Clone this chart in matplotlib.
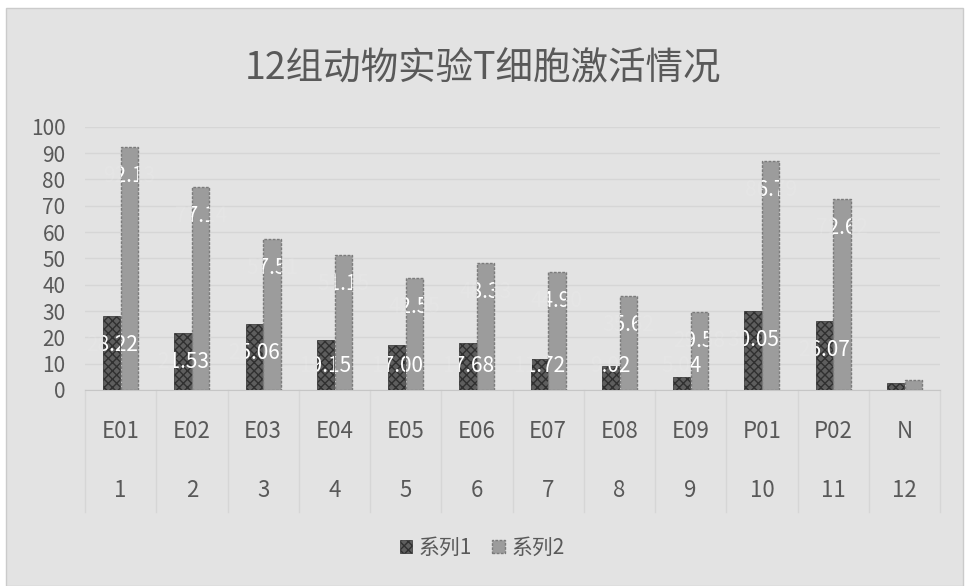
import matplotlib.pyplot as plt
from matplotlib.patches import Rectangle
from matplotlib.transforms import blended_transform_factory
import numpy as np

plt.rcParams["font.family"] = ["Noto Sans CJK SC", "DejaVu Sans"]

groups = ["E01", "E02", "E03", "E04", "E05", "E06", "E07", "E08", "E09", "P01", "P02", "N"]
numbers = ["1", "2", "3", "4", "5", "6", "7", "8", "9", "10", "11", "12"]
series1 = [28.22, 21.53, 25.06, 19.15, 17.00, 17.68, 11.72, 9.02, 5.04, 30.05, 26.07, 2.80]
series2 = [92.13, 77.14, 57.51, 51.15, 42.55, 48.33, 44.90, 35.62, 29.58, 86.79, 72.62, 3.80]
names = ["系列1", "系列2"]

BG, TXT = "#e3e3e3", "#595959"
W, H = 965, 586

fig = plt.figure(figsize=(W / 100, H / 100), dpi=100, facecolor="white")
fig.patches.append(Rectangle((6 / W, 0), 957 / W, 1 - 8 / H, transform=fig.transFigure,
                             facecolor=BG, edgecolor="#cbcbcb", lw=1, zorder=-5))
ax = fig.add_axes([85 / W, 1 - 390 / H, 855 / W, 263.3 / H])
ax.set_facecolor("none")

x = np.arange(len(groups))
w, off = 0.24, 0.125
b1 = ax.bar(x - off, series1, w, color="#5e5e5e", edgecolor="#303030", hatch="xxxx",
            lw=0.5, zorder=3)
b2 = ax.bar(x + off, series2, w, color="#9c9c9c", edgecolor="#7b7b7b",
            ls=(0, (2, 1)), lw=1, zorder=3)

# white value labels near the top of each bar: faint over the background,
# solid white wherever they cross one of the two bars of their group
for bars, vals in ((b1, series1), (b2, series2)):
    for i, (r, v) in enumerate(list(zip(bars, vals))[:-1]):
        cx = r.get_x() + r.get_width() / 2
        ty = max(v - 11, 9)
        ax.text(cx, ty, f"{v:.2f}", ha="center", va="center", fontsize=15,
                color="white", alpha=0.1, zorder=4)
        for clip in (b1[i], b2[i]):
            t = ax.text(cx, ty, f"{v:.2f}", ha="center", va="center", fontsize=15,
                        color="white", zorder=5, clip_on=True)
            t.set_clip_path(clip)

ax.set_xlim(-0.5, len(groups) - 0.5)
ax.set_ylim(0, 100)
ax.set_yticks(np.arange(0, 101, 10))
ax.tick_params(axis="y", length=0, pad=14, labelsize=15, labelcolor=TXT)
ax.set_xticks([])
ax.yaxis.grid(True, color="#d6d6d6", lw=1)
ax.set_axisbelow(True)
for s in ("top", "right", "left"):
    ax.spines[s].set_visible(False)
ax.spines["bottom"].set_color("#c6c6c6")

# two-level category axis: group code on top, running number below
trans = blended_transform_factory(ax.transData, ax.transAxes)
for i in x:
    ax.text(i, -0.1595, groups[i], transform=trans, ha="center", va="center",
            fontsize=16, color=TXT)
    ax.text(i, -0.38, numbers[i], transform=trans, ha="center", va="center",
            fontsize=16, color=TXT)
for b in np.arange(-0.5, len(groups)):
    ax.plot([b, b], [0, -0.463], transform=trans, color="#d6d6d6", lw=1, clip_on=False)

fig.text(0.5, 1 - 69 / H, "12组动物实验T细胞激活情况", ha="center", va="center",
         fontsize=27, color=TXT)
fig.legend(handles=[b1, b2], labels=names, loc="center",
           bbox_to_anchor=(482 / W, 1 - 548 / H), ncol=2, frameon=False, fontsize=15,
           labelcolor=TXT, handlelength=0.6, handleheight=0.6, handletextpad=0.3,
           columnspacing=1.0)

fig.savefig("out.png", dpi=100, facecolor=fig.get_facecolor())
